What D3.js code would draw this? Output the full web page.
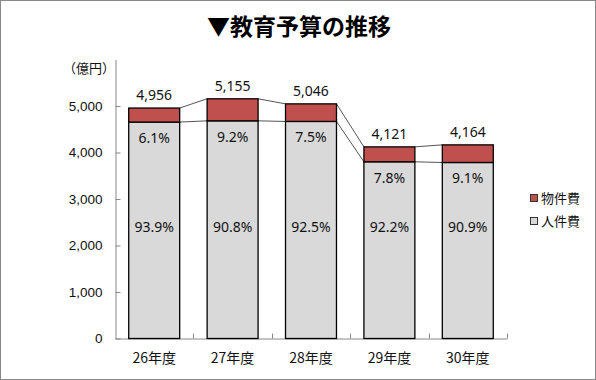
<!DOCTYPE html>
<html>
<head>
<meta charset="utf-8">
<script src="https://cdn.jsdelivr.net/npm/d3@7/dist/d3.min.js"></script>
<style>
  body { margin:0; background:#fff; }
  svg { display:block; font-family:"Noto Sans","Noto Sans CJK JP",sans-serif; }
</style>
</head>
<body>
<svg id="chart" width="596" height="380"></svg>
<script>
// ===== data =====
const categories = ["26年度", "27年度", "28年度", "29年度", "30年度"];
const jinkenhi   = [4654, 4681, 4668, 3800, 3785];   // 人件費
const bukkenhi   = [302, 474, 378, 321, 379];        // 物件費
const totals     = [4956, 5155, 5046, 4121, 4164];
const pctJin     = ["93.9%", "90.8%", "92.5%", "92.2%", "90.9%"];
const pctBuk     = ["6.1%", "9.2%", "7.5%", "7.8%", "9.1%"];
const yTicks     = [0, 1000, 2000, 3000, 4000, 5000];

const RED = "#C0504D", GRAY = "#D9D9D9", JP = "'Noto Sans CJK JP',sans-serif";

const svg = d3.select("#chart");

// frame
svg.append("rect").attr("x",0.5).attr("y",0.5).attr("width",595).attr("height",379)
   .attr("fill","#fff").attr("stroke","#888");

// title
svg.append("text").attr("x",299).attr("y",27).attr("dy","0.35em")
   .attr("text-anchor","middle").style("font-family",JP)
   .style("font-size","23px").style("font-weight","bold")
   .text("▼教育予算の推移");

// ===== scales =====
const x = d3.scaleBand().domain(categories).range([115, 507]).padding(0);
const y = d3.scaleLinear().domain([0, 6000]).range([338.5, 59.5]);
const bw = x.bandwidth() * 0.65;
const off = (x.bandwidth() - bw) / 2;

// y axis
const yAxis = svg.append("g").attr("transform","translate(115.5,0)")
   .call(d3.axisLeft(y).tickValues(yTicks).tickFormat(d3.format(",")).tickSizeInner(-5).tickSizeOuter(0).tickPadding(13));
yAxis.select(".domain").attr("stroke","#888");
yAxis.selectAll(".tick line").attr("stroke","#888");
yAxis.selectAll("text").style("font-size","13.5px").attr("fill","#111");

svg.append("text").attr("x",89).attr("y",68).attr("dy","0.35em").attr("text-anchor","middle")
   .style("font-family",JP).style("font-size","13px").attr("fill","#111").text("（億円）");

// x axis
const xAxis = svg.append("g").attr("transform","translate(0,338.5)")
   .call(d3.axisBottom(x).tickSize(0).tickPadding(15));
xAxis.select(".domain").attr("stroke","#888");
xAxis.selectAll("text").style("font-family",JP).style("font-size","14px").attr("fill","#111");
const bounds = categories.map(c => x(c)).concat([x.range()[1]]);
svg.append("g").selectAll("line").data(bounds.slice(1)).join("line")
   .attr("x1", d => Math.round(d) + 0.5).attr("x2", d => Math.round(d) + 0.5)
   .attr("y1", 338.5).attr("y2", 333.5).attr("stroke","#888");

// series lines
const lineG = svg.append("g").attr("stroke","#555").attr("stroke-width",1).attr("fill","none");
[jinkenhi, totals].forEach(arr => {
  lineG.selectAll(null).data(categories.slice(0, -1)).join("line")
    .attr("x1", (c,i) => x(c) + off + bw)
    .attr("y1", (c,i) => y(arr[i]))
    .attr("x2", (c,i) => x(categories[i+1]) + off)
    .attr("y2", (c,i) => y(arr[i+1]));
});

// bars
const bars = svg.append("g");
bars.selectAll(".jin").data(categories).join("rect").attr("class","jin")
   .attr("x", c => x(c) + off).attr("width", bw)
   .attr("y", (c,i) => y(jinkenhi[i])).attr("height", (c,i) => y(0) - y(jinkenhi[i]))
   .attr("fill", GRAY).attr("stroke","#000").attr("stroke-width",1.3);
bars.selectAll(".buk").data(categories).join("rect").attr("class","buk")
   .attr("x", c => x(c) + off).attr("width", bw)
   .attr("y", (c,i) => y(totals[i])).attr("height", (c,i) => y(jinkenhi[i]) - y(totals[i]))
   .attr("fill", RED).attr("stroke","#000").attr("stroke-width",1.3);

// labels
const lab = svg.append("g").attr("text-anchor","middle").style("font-size","14px").attr("fill","#111");
lab.selectAll(".tot").data(categories).join("text")
   .attr("x", c => x(c) + x.bandwidth()/2).attr("y", (c,i) => y(totals[i]) - 13).attr("dy","0.35em")
   .text((c,i) => d3.format(",")(totals[i]));
lab.selectAll(".pb").data(categories).join("text")
   .attr("x", c => x(c) + x.bandwidth()/2).attr("y", (c,i) => y(jinkenhi[i]) + 16).attr("dy","0.35em")
   .text((c,i) => pctBuk[i]);
lab.selectAll(".pj").data(categories).join("text")
   .attr("x", c => x(c) + x.bandwidth()/2).attr("y", y(2400)).attr("dy","0.35em")
   .text((c,i) => pctJin[i]);

// legend
const legend = [["物件費", RED], ["人件費", GRAY]];
const lg = svg.append("g").selectAll("g").data(legend).join("g")
   .attr("transform", (d,i) => `translate(530,${198 + i*23})`);
lg.append("rect").attr("x",0.5).attr("y",-3.5).attr("width",7).attr("height",7)
   .attr("fill", d => d[1]).attr("stroke","#333");
lg.append("text").attr("x",11).attr("dy","0.35em").style("font-family",JP)
   .style("font-size","13px").attr("fill","#111").text(d => d[0]);
</script>
</body>
</html>
